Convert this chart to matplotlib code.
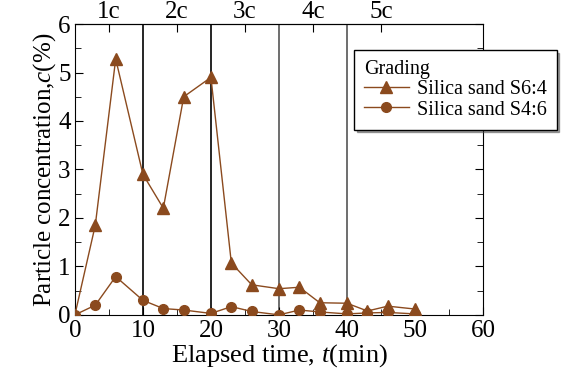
import numpy as np
import matplotlib
matplotlib.use('Agg')
import matplotlib.pyplot as plt

plt.rcParams['font.family'] = ['Liberation Serif', 'DejaVu Serif']
plt.rcParams['mathtext.fontset'] = 'custom'
plt.rcParams['mathtext.it'] = 'Liberation Serif:italic'
plt.rcParams['mathtext.rm'] = 'Liberation Serif'

# elapsed time (min)
t = [0, 3, 6, 10, 13, 16, 20, 23, 26, 30, 33, 36, 40, 43, 46, 50]
# particle concentration (%)
s64 = [0, 1.85, 5.28, 2.9, 2.2, 4.5, 4.9, 1.07, 0.62, 0.54, 0.57, 0.25, 0.24, 0.08, 0.18, 0.12]
s46 = [0, 0.2, 0.79, 0.3, 0.13, 0.1, 0.03, 0.17, 0.07, 0.0, 0.1, 0.06, 0.02, 0.04, 0.05, 0.02]

cycle_pos = [5, 15, 25, 35, 45]
cycle_labels = ['1c', '2c', '3c', '4c', '5c']
cycle_bounds = [10, 20, 30, 40]

brown = '#8B4A1E'

fig = plt.figure(figsize=(5.63, 3.70), dpi=100)
ax = fig.add_axes([0.133, 0.149, 0.725, 0.786])

for i, b in enumerate(cycle_bounds):
    ax.axvline(b, color='black' if i < 2 else '#555555', lw=1.2, zorder=1)

ax.plot(t, s64, '-^', color=brown, lw=1, ms=8, label='Silica sand S6:4', zorder=3)
ax.plot(t, s46, '-o', color=brown, lw=1, ms=7, label='Silica sand S4:6', zorder=3)

ax.set_xlim(0, 60)
ax.set_ylim(0, 6)
ax.set_xticks(range(0, 61, 10))
ax.set_xticks(range(5, 60, 10), minor=True)
ax.set_yticks(range(0, 7))
ax.set_yticks(np.arange(0.5, 6, 1), minor=True)
ax.tick_params(which='both', direction='in', labelsize=18, right=True)
ax.tick_params(axis='x', pad=4)
ax.tick_params(axis='y', pad=3)
ax.tick_params(which='major', length=6)
ax.tick_params(which='minor', length=4)

sec = ax.secondary_xaxis('top')
sec.set_xticks(cycle_pos)
sec.set_xticklabels(cycle_labels)
sec.tick_params(direction='in', labelsize=18, length=6, pad=1)

ax.set_xlabel('Elapsed time, $t$(min)', fontsize=19, labelpad=0)
ax.set_ylabel('Particle concentration,$c$(%)', fontsize=18, labelpad=0)

leg = ax.legend(title='Grading', loc='upper right', bbox_to_anchor=(1.18, 0.91),
                borderaxespad=0, fontsize=14.5, title_fontsize=14.5, frameon=True,
                fancybox=False, shadow=True, edgecolor='black', framealpha=1,
                handlelength=2.2, borderpad=0.5, labelspacing=0.05, handletextpad=0.4)
leg._legend_box.align = 'left'
leg.get_frame().set_linewidth(1)

fig.savefig('out.png', dpi=100)
